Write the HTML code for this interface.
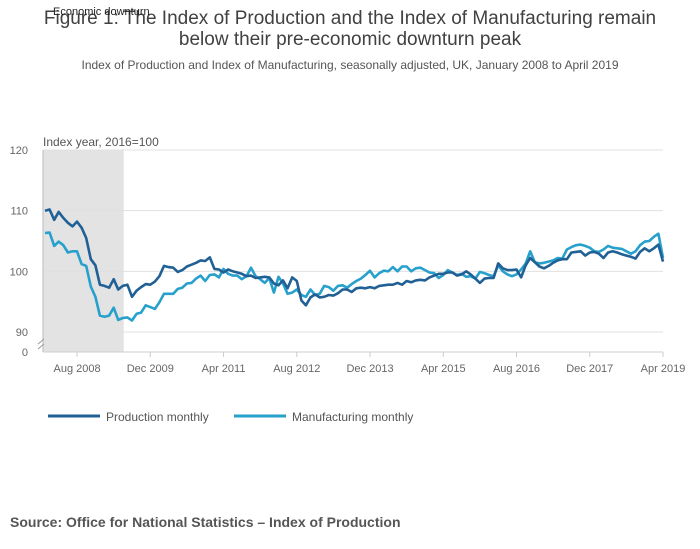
<!DOCTYPE html>
<html><head><meta charset="utf-8"><style>
body{margin:0;background:#fff;font-family:"Liberation Sans",sans-serif;}
#wrap{position:relative;width:700px;height:549px;overflow:hidden}
</style></head><body>
<div id="wrap">
<svg id="chart" width="700" height="549" xmlns="http://www.w3.org/2000/svg"></svg>
</div>
<script>
const productionValues=[110,110.2,108.5,109.8,108.8,108,107.4,108.2,107.2,105.5,102,101,
97.8,97.6,97.3,98.7,97,97.6,97.8,95.8,96.8,97.4,97.9,97.8,
98.3,99.2,100.9,100.7,100.6,99.9,100.2,100.8,101.1,101.4,101.8,101.7,
102.3,100.4,100.3,99.8,100.3,100,99.8,99.6,99.2,99.3,98.9,99,
99.1,99,98,97.7,98.5,97.2,99,98.4,95.2,94.4,95.7,96.2,
95.7,95.8,96.1,96,96.4,97,97,96.6,97.2,97.3,97.2,97.4,
97.2,97.6,97.7,97.8,97.8,98.1,97.8,98.4,98.2,98.5,98.6,98.5,
99,99.3,99.6,99.6,99.8,99.8,99.3,99.5,100,99.5,98.8,98.1,
98.8,98.9,98.9,101.3,100.5,100.2,100.2,100.3,99,101,102.2,101.5,
100.8,100.5,100.9,101.4,101.8,102,102,103.1,103.2,103.3,102.6,103.1,
103.2,102.9,102.2,103.1,103.3,103.1,102.8,102.6,102.4,102.1,103.2,103.8,
103.3,103.8,104.4,101.6];
const manufacturingValues=[106.3,106.4,104.2,104.9,104.3,103.1,103.3,103.3,101.2,100.9,97.5,95.8,
92.7,92.5,92.7,94,92,92.3,92.4,91.9,93,93.2,94.4,94.1,
93.8,94.9,96.3,96.3,96.3,97.1,97.3,98,98.1,98.8,99.3,98.4,
99.4,99.5,99,100.4,99.6,99.3,99.3,98.7,99.2,100.6,99.2,98.7,
98.1,98.9,96.5,99.1,98,96.3,96.5,97,96.1,95.8,97,96.1,
96.3,97.6,97.4,96.8,97.6,97.7,97.3,97.9,98.4,98.8,99.4,100.1,
99,99.7,100.1,100,100.7,100,100.8,100.8,100,100.5,100.6,100.2,
99.8,99.7,98.9,99.4,100.2,99.8,99.4,99.6,99.1,99.2,98.8,99.9,
99.7,99.4,99.2,101,100,99.5,99.2,99.5,100.3,101.3,103.3,101.5,
101.3,101.4,101.6,101.8,102.2,102.1,103.6,104,104.3,104.4,104.2,103.9,
103.3,103.2,103.6,104.2,103.9,103.8,103.7,103.3,102.9,103.3,104.3,104.9,
105,105.7,106.2,102.2];
const yTicks=[90,100,110,120];
const xTickLabels=["Aug 2008","Dec 2009","Apr 2011","Aug 2012","Dec 2013","Apr 2015","Aug 2016","Dec 2017","Apr 2019"];
const xTickMonths=[7,23,39,55,71,87,103,119,135];
const recessionMonths=[0,17.2];

const NS="http://www.w3.org/2000/svg";
const svg=document.getElementById('chart');
const X0=45,X1=663,Y120=150,Y90=332;
const x=m=>X0+(X1-X0)*m/135;
const y=v=>Y90+(Y120-Y90)*(v-90)/30;
function mk(tag,attrs,parent){const e=document.createElementNS(NS,tag);for(const k in attrs)e.setAttribute(k,attrs[k]);(parent||svg).appendChild(e);return e;}
function txt(s,attrs){const t=mk('text',attrs);t.textContent=s;return t;}

let t;
t=txt("Figure 1: The Index of Production and the Index of Manufacturing remain",{x:350,y:24,'text-anchor':'middle','font-size':19,fill:'#414042'});

t=txt("below their pre-economic downturn peak",{x:350,y:45,'text-anchor':'middle','font-size':19,fill:'#414042'});

t=txt("Index of Production and Index of Manufacturing, seasonally adjusted, UK, January 2008 to April 2019",{x:350,y:69,'text-anchor':'middle','font-size':12,fill:'#555'});


let r=mk('rect',{x:43,y:150,width:x(recessionMonths[1])-43,height:202,fill:'#e3e3e3'});

t=txt("Economic downturn",{x:53,y:15,'font-size':11,fill:'#222'});


yTicks.forEach(v=>{
 const l=mk('line',{x1:43,x2:663,y1:y(v),y2:y(v),stroke:'#e0e0e0','stroke-width':1});
 
 const tt=txt(String(v),{x:28,y:y(v)+4,'text-anchor':'end','font-size':11,fill:'#666'});
 
});
t=txt("0",{x:28,y:356,'text-anchor':'end','font-size':11,fill:'#666'});

let a=mk('line',{x1:43,x2:43,y1:150,y2:352,stroke:'#bbb'});

a=mk('line',{x1:43,x2:663,y1:352,y2:352,stroke:'#ccc'});

a=mk('path',{d:'M38,344 l6,-5 M38,349 l6,-5',stroke:'#999',fill:'none'});

t=txt("Index year, 2016=100",{x:43,y:146,'font-size':12,fill:'#555'});


xTickMonths.forEach((m,i)=>{
 const l=mk('line',{x1:x(m),x2:x(m),y1:352,y2:357,stroke:'#ccc'});
 
 const tt=txt(xTickLabels[i],{x:x(m),y:372,'text-anchor':'middle','font-size':11,fill:'#666'});
 
});

function line(vals,color,name){
 const d=vals.map((v,i)=>(i?'L':'M')+x(i).toFixed(1)+','+y(v).toFixed(1)).join(' ');
 const p=mk('path',{d:d,fill:'none',stroke:color,'stroke-width':2.6,'stroke-linejoin':'round'});
 
}
line(manufacturingValues,'#27a0cc','manufacturing-line');
line(productionValues,'#206095','production-line');

let g=mk('line',{x1:48,x2:100,y1:416,y2:416,stroke:'#206095','stroke-width':3});

t=txt("Production monthly",{x:106,y:421,'font-size':12,fill:'#555'});

g=mk('line',{x1:234,x2:286,y1:416,y2:416,stroke:'#27a0cc','stroke-width':3});

t=txt("Manufacturing monthly",{x:292,y:421,'font-size':12,fill:'#555'});


t=txt("Source: Office for National Statistics – Index of Production",{x:10,y:527,'font-size':14,'font-weight':'bold',fill:'#555'});

</script>
</body></html>
